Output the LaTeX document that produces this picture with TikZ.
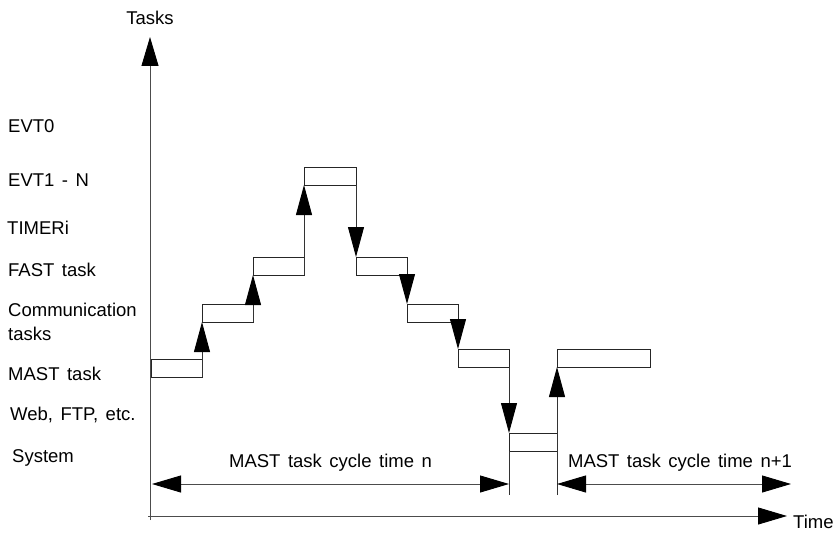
\documentclass[tikz,border=0pt]{standalone}
\usepackage{fontspec}
\setmainfont{Liberation Sans}
\usetikzlibrary{arrows.meta,positioning}
\newcommand\lblfont{\fontsize{18.5}{24}\selectfont\spaceskip=7.5pt plus 1pt\relax}
\tikzset{
  lbl/.style  ={font=\lblfont,text=black,inner sep=0pt},
  lvl/.style  ={lbl,anchor=west,align=left},
  slot/.style ={draw=black!85,rectangle,inner sep=0pt,outer sep=0pt,
                minimum width=51pt,minimum height=18pt,line width=0.9pt},
  axis/.style ={-{Triangle[length=29pt,width=17pt,color=black]},line width=0.9pt,black!70},
  dim/.style  ={{Triangle[length=29pt,width=17pt,color=black]}-{Triangle[length=29pt,width=17pt,color=black]},
                line width=0.9pt,black!70},
  jump/.style ={-{Triangle[length=30pt,width=16pt,color=black]},line width=0.9pt,black!80},
  tick/.style ={line width=0.9pt,black!80},
}
\begin{document}
\begin{tikzpicture}[x=1pt,y=-1pt]
  \useasboundingbox (0,0) rectangle (840,535);
  % axes
  \coordinate (ybot) at (150,520);
  \coordinate (ytop) at (150,37);
  \coordinate (xbeg) at (148,516);
  \coordinate (xend) at (787,516);
  \draw[axis] (ybot) -- (ytop);
  \draw[axis] (xbeg) -- (xend);
  \node[lbl,above=12pt of ytop] (tasks) {Tasks};
  \node[lbl,right=6pt of xend,yshift=-6pt] (time) {Time};

  % task levels
  \node[lvl] (evt0)  at (8,126)  {EVT0};
  \node[lvl] (evt1)  at (8,180)  {EVT1 - N};
  \node[lvl] (timer) at (7,228)  {TIMERi};
  \node[lvl] (fast)  at (8,270)  {FAST task};
  \node[lvl] (comm)  at (8,322)  {Communication\\ tasks};
  \node[lvl] (mast)  at (8,374)  {MAST task};
  \node[lvl] (web)   at (10,415) {Web, FTP, etc.};
  \node[lvl] (sys)   at (12,458) {System};

  % execution steps
  \node[slot] (m1) at (176.5,368) {};
  \node[slot,above right=37pt and 0pt of m1] (c1) {};
  \node[slot,above right=29pt and 0pt of c1] (f1) {};
  \node[slot,above right=72pt and 0pt of f1,minimum width=52pt] (e1) {};
  \node[slot,below right=72pt and 0pt of e1] (f2) {};
  \node[slot,below right=29pt and 0pt of f2] (c2) {};
  \node[slot,below right=27pt and 0pt of c2] (m2) {};
  \node[slot,below right=66pt and 0pt of m2,minimum width=48pt] (s1) {};
  \node[slot,above right=66pt and 0pt of s1,minimum width=93pt] (m3) {};

  \draw[jump] (m1.south east) -- (c1.south west);
  \draw[jump] (c1.south east) -- (f1.south west);
  \draw[jump] (f1.south east) -- (e1.south west);
  \draw[jump] (e1.south east) -- (f2.north west);
  \draw[jump] (f2.south east) -- (c2.north west);
  \draw[jump] (c2.south east) -- (m2.north west);
  \draw[jump] (m2.south east) -- (s1.north west);

  % cycle boundaries
  \coordinate (tn)  at ([yshift=-44pt]s1.south west);
  \coordinate (tn1) at ([yshift=-44pt]s1.south east);
  \draw[tick] (s1.south west) -- (tn);
  \draw[jump] (tn1) -- (m3.south west);

  % cycle times
  \coordinate (dn)  at (152,484);
  \coordinate (dn1) at (791,484);
  \draw[dim] (dn) -- (dn -| tn)
    node[lbl,midway,above=12pt] (cyc) {MAST task cycle time n};
  \draw[dim] (dn -| tn1) -- (dn1)
    node[lbl,midway,above=12pt,xshift=6pt] (cyc1) {MAST task cycle time n+1};
\end{tikzpicture}
\end{document}
